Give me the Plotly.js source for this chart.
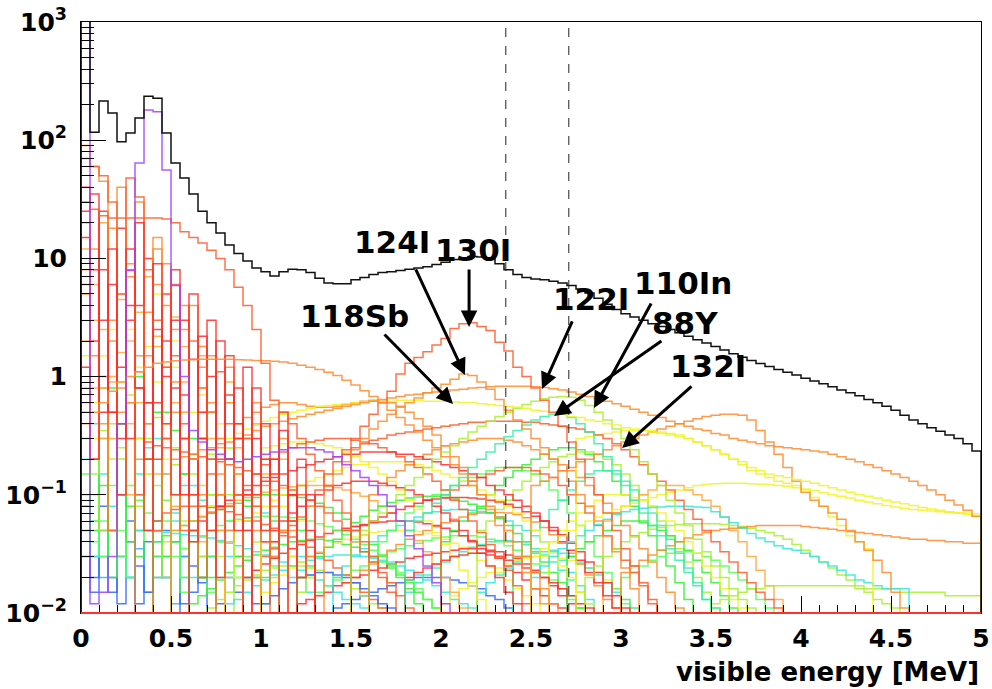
<!DOCTYPE html>
<html>
<head>
<meta charset="utf-8">
<script src="https://cdn.plot.ly/plotly-3.0.1.min.js"></script>
<style>html,body{margin:0;padding:0;background:#fff}#chart{width:992px;height:689px}</style>
</head>
<body>
<div id="chart"></div>
<script>
// ---------------- DATA (bin width 0.05 MeV) ----------------
const binWidth = 0.05;

const xTickStep = 0.5;
const yTickVals = [0.01, 0.1, 1, 10, 100, 1000];
const yTickText = ['10<sup>\u22122</sup>', '10<sup>\u22121</sup>', '1', '10', '10<sup>2</sup>', '10<sup>3</sup>'];
const xTitle = 'visible energy [MeV]';
const windowLow = 2.36, windowHigh = 2.71;

// total spectrum (black), 0 - 5 MeV
const totalStart = 0;
const totalVals = [2000,117,215,170,97,115,154,235,226,115,
  64,48,35,25,20,16.4,13,11,9.5,8.3,
  7.7,7.1,7.7,8.1,8.0,7.6,6.8,6.2,6.1,6.1,
  6.6,6.9,7.3,7.6,7.7,7.9,8.1,8.3,8.5,8.9,
  9.3,9.8,10.1,10.4,10.3,9.9,9.0,8.0,7.3,6.9,
  6.7,6.6,6.4,6.2,5.9,5.5,5.1,4.6,4.1,3.7,
  3.4,3.2,3.0,2.8,2.65,2.5,2.35,2.2,2.05,1.92,
  1.8,1.68,1.56,1.46,1.37,1.29,1.22,1.15,1.09,1.03,
  0.97,0.92,0.87,0.82,0.77,0.73,0.69,0.64,0.60,0.56,
  0.52,0.47,0.43,0.40,0.37,0.345,0.32,0.30,0.27,0.235];

// prominent isotopes
const purpleStart = 0;
const purpleVals = [1500,0.012,0.015,0.03,0.4,7.9,64,180,174,56,5.9,1.0,0.35,0.28,0.24,0.22,0.2,0.19,0.2,0.21,
  0.22,0.23,0.24,0.25,0.25,0.25,0.24,0.23,0.21,0.18,0.16,0.14,0.12,0.1,0.08,0.06,0.045,0.035,0.025,0.018,0.012];
const redAStart = 0;
const redAVals = [30,26,23,22,22,22,22,22,22,21.5,20,16.8,15,13.5,11.7,10,8.0,5.7,4.0,2.5,
  1.3,0.63,0.5,0.4,0.3,0.22,0.16,0.12,0.09,0.07,0.05,0.04,0.03,0.02,0.015];
const orangeEStart = 0;
const orangeEVals = [0.4,0.5,0.6,0.75,0.9,1.0,1.1,1.2,1.3,1.33,1.36,1.38,1.39,1.4,1.4,1.4,1.4,1.39,1.38,1.37,
  1.36,1.35,1.33,1.3,1.25,1.2,1.15,1.09,1.02,0.93,0.85,0.76,0.68,0.6,0.52,0.45,0.39,0.34,0.29,0.25,
  0.21,0.18,0.15,0.12,0.1,0.08,0.065,0.05,0.04,0.03,0.022,0.016,0.012];
const i130Start = 1.0;
const i130Vals = [0.03,0.035,0.045,0.055,0.065,0.08,0.11,0.15,0.19,0.24,0.3,0.38,0.48,0.6,0.75,1.05,1.3,1.45,1.62,1.85,
  2.1,2.55,2.8,2.85,2.65,2.45,1.95,1.65,1.2,1.0,0.8,0.63,0.5,0.38,0.28,0.2,0.14,0.1,0.07,0.05,0.035,0.025,0.018,0.012];
const i124Start = 1.35;
const i124Vals = [0.12,0.15,0.19,0.24,0.3,0.36,0.42,0.48,0.55,0.6,0.66,0.73,0.8,0.86,0.95,1.05,1.02,0.9,0.78,0.64,
  0.52,0.43,0.36,0.3,0.25,0.2,0.16,0.13,0.1,0.08,0.06,0.045,0.033,0.024,0.016];
const i122Start = 0.5;
const i122Vals = [0.2,0.21,0.22,0.24,0.25,0.27,0.28,0.3,0.32,0.35,
  0.38,0.4,0.42,0.44,0.46,0.48,0.5,0.52,0.54,0.56,
  0.58,0.6,0.62,0.64,0.66,0.68,0.7,0.71,0.73,0.74,
  0.75,0.77,0.78,0.8,0.81,0.82,0.83,0.83,0.83,0.83,
  0.82,0.81,0.79,0.77,0.74,0.71,0.68,0.65,0.62,0.59,
  0.56,0.53,0.5,0.47,0.45,0.42,0.4,0.38,0.36,0.35,
  0.33,0.32,0.3,0.29,0.28,0.27,0.26,0.255,0.25,0.245,
  0.24,0.235,0.23,0.22,0.21,0.2,0.19,0.18,0.17,0.16,
  0.15,0.14,0.13,0.12,0.11,0.1,0.09,0.082,0.074,0.066];
const sb118Start = 0.8;
const sb118Vals = [0.3,0.33,0.36,0.39,0.42,0.45,0.48,0.5,0.52,0.54,
  0.56,0.57,0.58,0.59,0.6,0.61,0.62,0.62,0.62,0.63,
  0.63,0.63,0.62,0.62,0.62,0.61,0.6,0.6,0.59,0.58,
  0.57,0.56,0.55,0.54,0.52,0.51,0.49,0.48,0.46,0.45,
  0.43,0.42,0.4,0.39,0.37,0.36,0.35,0.34,0.33,0.32,
  0.31,0.3,0.28,0.26,0.24,0.22,0.2,0.19,0.17,0.16,
  0.15,0.145,0.14,0.135,0.13,0.125,0.12,0.115,0.11,0.105,
  0.1,0.097,0.094,0.09,0.087,0.084,0.081,0.078,0.076,0.074,0.072,0.07,0.068,0.066];
const y88Start = 1.8;
const y88Vals = [0.05,0.06,0.07,0.085,0.1,0.12,0.14,0.17,0.2,0.23,0.27,0.31,0.35,0.39,0.43,0.46,0.48,0.48,0.45,0.4,
  0.34,0.27,0.21,0.16,0.12,0.09,0.07,0.055,0.045,0.035,0.028,0.022,0.017,0.013,0.011];
const in110Start = 1.5;
const in110Vals = [0.04,0.05,0.06,0.07,0.08,0.1,0.12,0.14,0.17,0.2,
  0.23,0.26,0.3,0.34,0.38,0.42,0.46,0.5,0.54,0.58,
  0.62,0.65,0.67,0.68,0.67,0.63,0.57,0.5,0.43,0.36,
  0.3,0.24,0.19,0.15,0.12,0.09,0.07,0.055,0.042,0.033,0.025,0.02,0.016,0.013,0.011];
const i132Start = 1.5;
const i132Vals = [0.25,0.27,0.29,0.3,0.32,0.33,0.34,0.35,0.36,0.37,
  0.38,0.39,0.4,0.41,0.41,0.42,0.42,0.42,0.42,0.41,
  0.41,0.4,0.39,0.38,0.37,0.36,0.34,0.32,0.3,0.27,
  0.24,0.21,0.18,0.15,0.13,0.11,0.09,0.075,0.062,0.05,
  0.04,0.033,0.027,0.022,0.018,0.015,0.013,0.011];
const o36Start = 2.5;
const o36Vals = [0.12,0.13,0.14,0.16,0.17,0.19,0.2,0.22,0.24,0.26,
  0.28,0.3,0.32,0.34,0.36,0.38,0.4,0.42,0.44,0.46,
  0.47,0.48,0.48,0.47,0.43,0.35,0.28,0.22,0.17,0.13,
  0.105,0.09,0.08,0.07,0.062,0.05,0.04,0.034,0.028,0.022,0.015,0.011];
const o40Start = 3.0;
const o40Vals = [0.022,0.025,0.028,0.031,0.034,0.037,0.04,0.043,0.046,0.048,
  0.05,0.051,0.052,0.053,0.054,0.055,0.055,0.055,0.055,0.055,
  0.054,0.053,0.052,0.051,0.05,0.049,0.048,0.047,0.046,0.045,
  0.044,0.043,0.042,0.042,0.041,0.041,0.04,0.04,0.039,0.039];
const g40Start = 2.8;
const g40Vals = [0.02,0.025,0.03,0.035,0.04,0.044,0.048,0.051,0.053,0.055,
  0.056,0.057,0.057,0.057,0.057,0.056,0.055,0.054,0.052,0.05,
  0.048,0.045,0.042,0.038,0.034,0.03,0.027,0.024,0.021,0.019,0.017,0.015,0.013,0.012,0.011];
const glStart = 3.5;
const glVals = [0.012,0.013,0.014,0.015,0.016,0.016,0.017,0.017,0.017,0.017,0.017,0.017,0.017,0.017,0.017,
  0.017,0.016,0.016,0.016,0.016,0.016,0.015,0.015,0.015,0.015,0.015,0.014,0.014,0.014,0.014];
const cyStart = 2.5;
const cyVals = [0.02,0.025,0.03,0.035,0.04,0.045,0.05,0.056,0.062,0.068,
  0.072,0.075,0.077,0.078,0.079,0.08,0.08,0.08,0.079,0.078,
  0.072,0.065,0.058,0.052,0.047,0.043,0.04,0.037,0.035,0.034,
  0.032,0.03,0.027,0.025,0.023,0.021,0.019,0.018,0.017,0.016,0.016,0.016];
const yeStart = 2.75;
const yeVals = [0.3,0.31,0.32,0.33,0.34,0.35,0.35,0.35,0.35,0.34,
  0.33,0.32,0.3,0.28,0.26,0.24,0.22,0.2,0.18,0.16,
  0.15,0.14,0.13,0.125,0.12,0.11,0.095,0.08,0.065,0.055,0.045,0.04,0.035];
const y2Start = 2.5;
const y2Vals = [0.03,0.035,0.04,0.045,0.05,0.055,0.06,0.065,0.07,0.075,
  0.08,0.085,0.09,0.095,0.1,0.105,0.11,0.115,0.12,0.122,
  0.124,0.125,0.125,0.125,0.124,0.123,0.122,0.12,0.118,0.115,
  0.112,0.108,0.104,0.1,0.097,0.094,0.09,0.087,0.084,0.081,
  0.079,0.077,0.075,0.074,0.073,0.072,0.071,0.07,0.07,0.069];

// broad backgrounds
const h1Start = 0.6, h1Vals = [0.05,0.06,0.07,0.08,0.09,0.1,0.11,0.12,0.13,0.14,0.15,0.16,0.17,0.18,0.19,0.2,0.21,0.22,0.22,0.23,0.23,0.23,0.23,0.22,0.22,0.21,0.2,0.19,0.18,0.17,0.16,0.15,0.14,0.12,0.11,0.1,0.09,0.08,0.07,0.06,0.05,0.04,0.034,0.028,0.022,0.018,0.014,0.011];
const h2Start = 1.0, h2Vals = [0.04,0.05,0.06,0.07,0.08,0.09,0.1,0.11,0.12,0.125,0.13,0.13,0.13,0.125,0.12,0.115,0.11,0.1,0.09,0.08,0.07,0.06,0.05,0.04,0.032,0.025,0.02,0.015,0.012];
const h3Start = 0.8, h3Vals = [0.08,0.1,0.12,0.15,0.18,0.2,0.23,0.25,0.27,0.28,0.29,0.3,0.3,0.3,0.29,0.28,0.27,0.25,0.23,0.21,0.19,0.17,0.15,0.13,0.11,0.09,0.075,0.06,0.048,0.038,0.03,0.023,0.017,0.012];
const h4Start = 1.2, h4Vals = [0.02,0.025,0.03,0.036,0.042,0.05,0.058,0.066,0.074,0.08,0.086,0.09,0.094,0.096,0.097,0.097,0.095,0.092,0.088,0.083,0.077,0.07,0.063,0.055,0.047,0.04,0.033,0.027,0.022,0.018,0.014,0.011];
const h5Start = 1.6, h5Vals = [0.03,0.04,0.05,0.06,0.07,0.08,0.09,0.1,0.11,0.12,0.13,0.14,0.15,0.16,0.17,0.17,0.17,0.16,0.15,0.13,0.11,0.09,0.07,0.055,0.04,0.03,0.022,0.016,0.012];
const h6Start = 0.9, h6Vals = [0.06,0.07,0.08,0.09,0.1,0.11,0.12,0.13,0.14,0.15,0.16,0.17,0.18,0.18,0.19,0.19,0.19,0.19,0.18,0.18,0.17,0.16,0.15,0.14,0.13,0.12,0.11,0.1,0.09,0.08,0.07,0.06,0.05,0.04,0.032,0.025,0.02,0.015,0.012];
const h7Start = 1.4, h7Vals = [0.02,0.025,0.03,0.035,0.04,0.045,0.05,0.055,0.06,0.065,0.07,0.072,0.074,0.075,0.075,0.074,0.072,0.07,0.065,0.06,0.055,0.05,0.045,0.04,0.034,0.028,0.022,0.017,0.013,0.01];
const h8Start = 1.6, h8Vals = [0.1,0.12,0.14,0.16,0.18,0.2,0.22,0.24,0.26,0.27,0.28,0.29,0.3,0.3,0.3,0.29,0.28,0.26,0.24,0.22,0.2,0.18,0.16,0.14,0.12,0.1,0.085,0.07,0.055,0.045,0.035,0.027,0.02,0.015,0.011];
const h9Start = 2.0, h9Vals = [0.04,0.05,0.06,0.07,0.08,0.1,0.12,0.14,0.16,0.18,0.2,0.22,0.24,0.25,0.25,0.24,0.22,0.19,0.16,0.13,0.1,0.08,0.06,0.045,0.034,0.025,0.018,0.013];
const h10Start = 2.2, h10Vals = [0.05,0.06,0.075,0.09,0.11,0.13,0.15,0.17,0.19,0.21,0.22,0.23,0.23,0.22,0.2,0.18,0.15,0.12,0.1,0.08,0.06,0.045,0.035,0.027,0.02,0.015,0.011];
const h11Start = 2.4, h11Vals = [0.03,0.04,0.05,0.06,0.075,0.09,0.11,0.13,0.15,0.16,0.16,0.15,0.13,0.11,0.09,0.07,0.055,0.042,0.032,0.024,0.018,0.013];
const h12Start = 1.5, h12Vals = [0.05,0.055,0.06,0.065,0.07,0.075,0.08,0.085,0.09,0.092,0.094,0.095,0.095,0.094,0.092,0.09,0.087,0.083,0.078,0.072,0.066,0.06,0.053,0.046,0.039,0.033,0.027,0.022,0.018,0.014,0.011];
const h13Start = 2.0, h13Vals = [0.1,0.11,0.12,0.13,0.14,0.15,0.16,0.17,0.17,0.17,0.16,0.15,0.14,0.12,0.1,0.085,0.07,0.055,0.045,0.035,0.028,0.022,0.017,0.013,0.01];
const h14Start = 0.5, h14Vals = [0.03,0.035,0.04,0.045,0.05,0.055,0.06,0.062,0.064,0.065,0.066,0.066,0.065,0.064,0.062,0.06,0.057,0.054,0.05,0.046,0.042,0.038,0.034,0.03,0.026,0.022,0.019,0.016,0.013,0.011];
const h15Start = 2.6, h15Vals = [0.04,0.05,0.06,0.07,0.08,0.09,0.1,0.1,0.1,0.095,0.09,0.08,0.07,0.06,0.05,0.04,0.032,0.025,0.02,0.016,0.013,0.011];
const h16Start = 2.9, h16Vals = [0.06,0.07,0.08,0.09,0.1,0.11,0.12,0.12,0.12,0.11,0.1,0.09,0.08,0.065,0.05,0.04,0.03,0.023,0.017,0.013,0.01];
const h17Start = 2.7, h17Vals = [0.03,0.035,0.04,0.045,0.05,0.055,0.06,0.06,0.058,0.055,0.05,0.045,0.04,0.034,0.028,0.022,0.018,0.014,0.011];
const h18Start = 1.8, h18Vals = [0.02,0.022,0.024,0.026,0.028,0.03,0.031,0.032,0.032,0.031,0.03,0.028,0.026,0.024,0.022,0.02,0.018,0.016,0.014,0.012,0.011];
const h19Start = 1.0, h19Vals = [0.012,0.014,0.016,0.018,0.02,0.021,0.022,0.022,0.021,0.02,0.018,0.016,0.014,0.012,0.011];
const h20Start = 2.2, h20Vals = [0.015,0.018,0.021,0.024,0.027,0.03,0.032,0.033,0.033,0.032,0.03,0.027,0.024,0.021,0.018,0.015,0.013,0.011];
const h21Start = 3.0, h21Vals = [0.02,0.022,0.025,0.028,0.03,0.032,0.033,0.033,0.032,0.03,0.028,0.025,0.022,0.019,0.016,0.013,0.011];
const h22Start = 0.3, h22Vals = [0.3,0.28,0.26,0.25,0.24,0.23,0.22,0.21,0.2,0.19,0.18,0.17,0.16,0.15,0.14,0.13,0.12,0.11,0.1,0.09,0.08,0.07,0.06,0.05,0.04,0.033,0.027,0.022,0.018,0.014,0.011];
const h23Start = 1.0, h23Vals = [0.25,0.26,0.27,0.28,0.28,0.28,0.27,0.26,0.25,0.23,0.21,0.19,0.17,0.15,0.13,0.11,0.09,0.075,0.06,0.048,0.038,0.03,0.023,0.017,0.013,0.01];
const h24Start = 0.9, h24Vals = [0.45,0.5,0.55,0.58,0.6,0.6,0.58,0.56,0.55,0.55,0.56,0.58,0.6,0.62,0.63,0.62,0.6,0.56,0.5,0.44,0.38,0.32,0.26,0.21,0.17,0.13,0.1,0.075,0.055,0.04,0.03,0.022,0.016,0.012];

// low-level backgrounds
const b1Start = 0.6, b1Vals = [0.012,0.014,0.016,0.019,0.022,0.025,0.028,0.031,0.034,0.036,0.038,0.04,0.041,0.042,0.042,0.041,0.04,0.038,0.036,0.033,0.03,0.027,0.024,0.021,0.018,0.015,0.013,0.011];
const b2Start = 0.8, b2Vals = [0.012,0.013,0.015,0.017,0.019,0.021,0.023,0.025,0.027,0.028,0.029,0.03,0.031,0.031,0.031,0.03,0.029,0.028,0.027,0.025,0.023,0.021,0.019,0.017,0.015,0.013,0.012,0.011,0.01];
const b3Start = 1.0, b3Vals = [0.015,0.018,0.021,0.024,0.027,0.03,0.033,0.036,0.039,0.042,0.044,0.046,0.048,0.049,0.05,0.05,0.05,0.049,0.047,0.045,0.042,0.039,0.036,0.032,0.028,0.025,0.022,0.019,0.016,0.014,0.012,0.01];
const b4Start = 0.9, b4Vals = [0.02,0.023,0.026,0.029,0.032,0.035,0.038,0.041,0.044,0.047,0.05,0.052,0.054,0.056,0.058,0.059,0.06,0.06,0.06,0.059,0.057,0.055,0.052,0.049,0.045,0.041,0.037,0.033,0.029,0.025,0.022,0.019,0.016,0.014,0.012,0.011,0.01];
const b5Start = 1.3, b5Vals = [0.015,0.017,0.019,0.021,0.023,0.025,0.027,0.03,0.033,0.035,0.037,0.039,0.041,0.043,0.044,0.045,0.045,0.045,0.044,0.042,0.04,0.037,0.034,0.03,0.026,0.022,0.019,0.016,0.013,0.011];
const b6Start = 1.5, b6Vals = [0.02,0.023,0.026,0.03,0.034,0.038,0.042,0.046,0.05,0.054,0.058,0.062,0.065,0.068,0.07,0.071,0.071,0.07,0.068,0.064,0.059,0.053,0.046,0.039,0.032,0.026,0.021,0.017,0.013,0.011];
const b7Start = 0.7, b7Vals = [0.011,0.013,0.015,0.017,0.019,0.021,0.023,0.024,0.025,0.025,0.025,0.024,0.023,0.022,0.02,0.018,0.016,0.014,0.012,0.011];
const b8Start = 1.4, b8Vals = [0.011,0.012,0.013,0.014,0.015,0.016,0.017,0.018,0.019,0.02,0.02,0.02,0.02,0.019,0.018,0.017,0.016,0.014,0.013,0.011];
const b9Start = 1.2, b9Vals = [0.012,0.013,0.014,0.015,0.017,0.018,0.02,0.021,0.023,0.024,0.026,0.027,0.029,0.03,0.031,0.032,0.033,0.034,0.035,0.035,0.035,0.034,0.033,0.031,0.029,0.026,0.023,0.02,0.017,0.014,0.012,0.01];
const b10Start = 1.8, b10Vals = [0.015,0.018,0.021,0.024,0.027,0.03,0.033,0.036,0.038,0.04,0.041,0.041,0.04,0.038,0.035,0.031,0.027,0.023,0.019,0.015,0.012];
const b11Start = 0.4, b11Vals = [0.04,0.045,0.05,0.055,0.06,0.065,0.07,0.075,0.08,0.085,0.09,0.095,0.1,0.1,0.1,0.098,0.095,0.09,0.085,0.078,0.07,0.062,0.054,0.046,0.038,0.031,0.025,0.02,0.016,0.012];
const b12Start = 0.5, b12Vals = [0.05,0.055,0.06,0.066,0.072,0.078,0.084,0.09,0.095,0.1,0.105,0.11,0.114,0.117,0.12,0.12,0.12,0.118,0.115,0.11,0.104,0.097,0.089,0.08,0.07,0.06,0.05,0.041,0.033,0.026,0.02,0.015,0.011];
const b13Start = 2.0, b13Vals = [0.012,0.014,0.016,0.018,0.02,0.022,0.024,0.026,0.028,0.029,0.03,0.03,0.03,0.029,0.028,0.026,0.024,0.022,0.019,0.016,0.013,0.011];
const b14Start = 0.3, b14Vals = [0.05,0.05,0.049,0.048,0.047,0.046,0.045,0.044,0.043,0.041,0.039,0.037,0.035,0.033,0.031,0.029,0.027,0.025,0.023,0.021,0.019,0.017,0.015,0.013,0.012,0.011];
const b15Start = 0.4, b15Vals = [0.06,0.07,0.075,0.08,0.08,0.08,0.078,0.075,0.072,0.068,0.064,0.06,0.056,0.052,0.048,0.044,0.04,0.036,0.032,0.028,0.024,0.021,0.018,0.015,0.013,0.011];

// low-energy spiky contributions (start at 0)
const spikyStart = 0;
const s1Vals = [40,8,0.5,6,0.3,12,0.8,0.2,9,0.4,3,0.1,5,0.3,0.05,2,0.2,0.8,0,0.3,0.05,0.2,0,0.1];
const s2Vals = [90,60,45,2,40,0.6,30,1.5,12,4,0.9,2.5,0.2,1.2,0.5,0.1,0.6,0.15,0.3,0.05,0.12,0.03,0.05];
const s3Vals = [70,60,50,30,5,48,33,8,3,1.2,6,0.4,2,0.8,0.2,1.1,0.4,0.1,0.3,0.08,0.04];
const s4Vals = [3,0.6,1.5,0.2,0.9,2.5,0.3,1.8,5,0.2,1.2,0.5,0.1,0.8,0.05,0.3,0.6,0.02,0.2,0.04];
const s5Vals = [0.5,0.06,0.3,0.8,0.1,0.04,1.0,0.2,0.5,0.03,0.35,0.15,0.05,0.3,0.02,0.1,0.2,0.03,0.1,0.02];
const s6Vals = [0.2,0.03,0.15,0.05,0.4,0.02,0.1,0.25,0.04,0.15,0.06,0.02,0.12,0.03,0.08,0.02,0.05,0.02];
const s7Vals = [0.05,0.02,0.08,0.015,0.03,0.06,0.012,0.04,0.02,0.05,0.01,0.03,0.015,0.02];
const s8Vals = [20,1.5,0.4,18,0.8,7,0.2,3.5,15,9,0.5,0.3,4,0.1,1.5,0.3,0.05,0.4,0.1,0.02];
const s9Vals = [1.2,0.2,25,0.5,0.1,3,0.8,0.05,0.6,2,0.1,0.7,0.04,0.3,0.5,0.02,0.2,0.05,0.1];
const s10Vals = [0.8,0.1,0.05,0.4,0.2,0.6,0.05,0.3,0.12,0.02,0.25,0.06,0.15,0.03,0.1,0.04,0.02];
const s11Vals = [12,0.8,2.5,0.3,4.5,0.4,1.1,0.2,2.2,0.15,0.6,1.8,0.1,0.5,0.07,0.25,0.04,0.1];
const s12Vals = [6,0.2,1.0,0.05,0.4,8,0.1,0.6,0.05,0.3,1.5,0.05,0.2,0.02,0.15];
const s13Vals = [0.15,0.04,0.06,0.2,0.03,0.12,0.05,0.07,0.02,0.09,0.04,0.015,0.05,0.02,0.03];
const s14Vals = [0.08,0.03,0.02,0.05,0.1,0.02,0.035,0.015,0.06,0.02,0.012,0.03];
const s15Vals = [2,6,0.3,0.9,1.6,0.1,3.5,0.4,0.15,1.2,0.08,0.5,0.2,0.04,0.3,0.05];
const s16Vals = [0.3,0.05,0.12,0.02,0.4,0.08,0.03,0.2,0.06,0.5,0.04,0.15,0.3,0.02,0.1,0.05,0.25,0.03,0.08,0.15,0.02,0.06,0.1,0.03,0.05,0.02];
const s17Vals = [0.1,0.4,0.03,0.08,0.2,0.02,0.15,0.05,0.3,0.03,0.07,0.12,0.02,0.09,0.2,0.04,0.03,0.1,0.05,0.02,0.07,0.03,0.05,0.02,0.03,0.015];
const s18Vals = [0.03,0.015,0.05,0.02,0.012,0.04,0.025,0.015,0.03,0.02,0.04,0.012,0.025,0.018,0.03,0.012,0.02,0.015,0.02,0.012];
const s19Vals = [1.5,0.3,0.8,2.5,0.2,0.6,1.2,0.15,0.9,0.4,2,0.1,0.5,0.7,0.08,0.4,0.25,0.06,0.3,0.1,0.05,0.15,0.08,0.03,0.06,0.02];
const s20Vals = [5,12,0.8,3,0.5,9,1.5,0.4,6,0.3,2.5,4,0.2,1.8,0.6,0.15,1.2,0.3,0.1,0.6,0.2,0.08,0.3,0.05,0.12,0.03];
const s21Vals = [15,2,8,0.5,18,0.3,4,10,0.2,5,0.8,3,0.1,2.2,1,0.08,1.5,0.4,0.05,0.8,0.2,0.04,0.35,0.1,0.02,0.1];
const s22Vals = [0.6,0.15,0.35,0.05,0.25,0.7,0.08,0.2,0.45,0.04,0.18,0.3,0.06,0.12,0.22,0.03,0.1,0.15,0.02,0.08,0.1,0.02,0.05,0.06,0.015,0.03];
const s23Vals = [0.08,0.2,0.03,0.12,0.05,0.02,0.09,0.15,0.03,0.06,0.1,0.02,0.05,0.08,0.015,0.04,0.06,0.02,0.03,0.04,0.012,0.025];
const s24Vals = [8,3,20,1,5,2,0.6,7,1.8,0.3,3.2,0.9,0.2,1.5,0.5,0.1,0.9,0.25,0.06,0.4,0.15,0.04,0.2,0.06,0.02,0.08];
const s25Vals = [25,35,3,12,1.2,4,20,0.6,2.5,1,8,0.3,1.4,0.5,3,0.2,0.7,0.3,1.2,0.1,0.4,0.15,0.5,0.06,0.2,0.05];

// ---------------- BUILD ----------------
const FLOOR = 0.005;
function stepTrace(start, vals, color, width, opacity) {
  const xs = [start], ys = [FLOOR];
  for (let i = 0; i < vals.length; i++) {
    xs.push(+(start + i * binWidth).toFixed(4));
    ys.push(vals[i] < 0.01 ? FLOOR : vals[i]);
  }
  const end = +(start + vals.length * binWidth).toFixed(4);
  xs.push(end); ys.push(ys[ys.length - 1]);
  xs.push(end); ys.push(FLOOR);
  return {x: xs, y: ys, type: 'scatter', mode: 'lines', hoverinfo: 'skip',
          line: {shape: 'hv', color: color, width: width || 1.5}, opacity: opacity || 0.85};
}

const C = {purple:'#a040ff', red:'#ff2a2a', ored:'#ff5a2a', orange:'#ff8a2a', lorange:'#ffa838',
           yellow:'#f2f222', ygreen:'#a8f02a', green:'#33ee33', green2:'#55ff55', cgreen:'#33f0a8',
           cyan:'#33e6dd', lblue:'#33b0ff', blue:'#3366ff'};
const S = spikyStart;
const traces = [
  stepTrace(S, s7Vals, C.blue), stepTrace(S, s14Vals, C.lblue), stepTrace(S, s18Vals, C.blue),
  stepTrace(S, s6Vals, C.cyan), stepTrace(S, s17Vals, C.cyan), stepTrace(S, s13Vals, C.green2),
  stepTrace(S, s23Vals, C.green2), stepTrace(S, s5Vals, C.green), stepTrace(S, s16Vals, C.green),
  stepTrace(S, s10Vals, C.ygreen), stepTrace(S, s22Vals, C.ygreen),
  stepTrace(b8Start, b8Vals, C.blue), stepTrace(b2Start, b2Vals, C.cyan), stepTrace(b14Start, b14Vals, C.cyan),
  stepTrace(b7Start, b7Vals, C.ygreen), stepTrace(b1Start, b1Vals, C.green), stepTrace(b5Start, b5Vals, C.green2),
  stepTrace(b10Start, b10Vals, C.cgreen), stepTrace(b11Start, b11Vals, C.green), stepTrace(b3Start, b3Vals, C.yellow),
  stepTrace(b13Start, b13Vals, C.yellow), stepTrace(b6Start, b6Vals, C.orange), stepTrace(b12Start, b12Vals, C.lorange),
  stepTrace(b9Start, b9Vals, C.red), stepTrace(b4Start, b4Vals, C.red), stepTrace(b15Start, b15Vals, C.ored),
  stepTrace(h19Start, h19Vals, C.blue), stepTrace(h20Start, h20Vals, C.cyan),
  stepTrace(h7Start, h7Vals, C.cyan), stepTrace(h14Start, h14Vals, C.green2),
  stepTrace(h4Start, h4Vals, C.green), stepTrace(h5Start, h5Vals, C.green2),
  stepTrace(h9Start, h9Vals, C.green), stepTrace(h10Start, h10Vals, C.ygreen),
  stepTrace(h11Start, h11Vals, C.cgreen), stepTrace(h17Start, h17Vals, C.green),
  stepTrace(h21Start, h21Vals, C.green2), stepTrace(h15Start, h15Vals, C.yellow),
  stepTrace(h6Start, h6Vals, C.yellow), stepTrace(h23Start, h23Vals, C.yellow),
  stepTrace(h16Start, h16Vals, C.lorange), stepTrace(h8Start, h8Vals, C.orange),
  stepTrace(h18Start, h18Vals, C.red), stepTrace(h12Start, h12Vals, C.red),
  stepTrace(h13Start, h13Vals, C.ored), stepTrace(h3Start, h3Vals, C.ored),
  stepTrace(h2Start, h2Vals, C.red), stepTrace(h1Start, h1Vals, C.red),
  stepTrace(h22Start, h22Vals, C.ored), stepTrace(h24Start, h24Vals, C.orange),
  stepTrace(glStart, glVals, C.ygreen), stepTrace(g40Start, g40Vals, C.ygreen),
  stepTrace(cyStart, cyVals, C.cyan), stepTrace(o40Start, o40Vals, C.orange),
  stepTrace(y2Start, y2Vals, C.yellow), stepTrace(yeStart, yeVals, C.yellow),
  stepTrace(o36Start, o36Vals, C.orange), stepTrace(i132Start, i132Vals, C.ored),
  stepTrace(y88Start, y88Vals, C.cgreen), stepTrace(in110Start, in110Vals, C.ygreen),
  stepTrace(sb118Start, sb118Vals, C.yellow), stepTrace(i122Start, i122Vals, C.orange),
  stepTrace(i124Start, i124Vals, C.orange), stepTrace(i130Start, i130Vals, C.ored),
  stepTrace(S, s4Vals, C.yellow), stepTrace(S, s19Vals, C.yellow), stepTrace(S, s15Vals, C.lorange),
  stepTrace(S, s11Vals, C.lorange), stepTrace(S, s24Vals, C.lorange), stepTrace(S, s8Vals, C.orange),
  stepTrace(S, s20Vals, C.orange), stepTrace(S, s12Vals, C.ored), stepTrace(S, s9Vals, C.red),
  stepTrace(S, s21Vals, C.red), stepTrace(S, s2Vals, C.orange), stepTrace(S, s3Vals, C.ored),
  stepTrace(S, s25Vals, C.red), stepTrace(S, s1Vals, C.red),
  stepTrace(orangeEStart, orangeEVals, C.orange), stepTrace(redAStart, redAVals, C.ored),
  stepTrace(purpleStart, purpleVals, C.purple),
  stepTrace(totalStart, totalVals, '#111111', 1.5, 1)
];

// minor log ticks
const yMinor = [];
for (let d = -2; d < 3; d++) for (let m = 2; m <= 9; m++) yMinor.push(m * Math.pow(10, d));

// labels: [text, textX, textLogY, tailX, tailLogY, tipX, tipLogY]
const labels = [
  ['124I', 1.728, 1.139, 1.856, 0.919, 2.133, 0.014],
  ['130I', 2.178, 1.071, 2.156, 0.919, 2.156, 0.42],
  ['118Sb', 1.522, 0.513, 1.678, 0.369, 2.067, -0.232],
  ['122I', 2.833, 0.657, 2.733, 0.479, 2.561, -0.105],
  ['110In', 3.344, 0.792, 3.172, 0.631, 2.85, -0.266],
  ['88Y', 3.356, 0.453, 3.233, 0.310, 2.628, -0.333],
  ['132I', 3.483, 0.090, 3.4, -0.071, 3.006, -0.604]
];
const annotations = [];
labels.forEach(l => {
  annotations.push({x: l[5], y: l[6], ax: l[3], ay: l[4], axref: 'x', ayref: 'y', xref: 'x', yref: 'y',
    text: '', showarrow: true, arrowhead: 2, arrowsize: 1.1, arrowwidth: 3, arrowcolor: '#000', standoff: 0});
  annotations.push({x: l[1], y: l[2], xref: 'x', yref: 'y', text: l[0], showarrow: false,
    xanchor: 'center', yanchor: 'middle',
    font: {family: 'DejaVu Sans, sans-serif', size: 31, color: '#000', weight: 'bold'}});
});
annotations.push({x: 1, y: -0.1, xref: 'paper', yref: 'paper', xanchor: 'right', yanchor: 'middle',
  text: xTitle, showarrow: false,
  font: {family: 'DejaVu Sans, sans-serif', size: 26, color: '#000', weight: 'bold'}});

const tickFont = {family: 'DejaVu Sans, sans-serif', size: 25, color: '#000', weight: 'bold'};
const layout = {
  width: 992, height: 689,
  margin: {l: 81, r: 11, t: 22, b: 76, pad: 0},
  paper_bgcolor: '#fff', plot_bgcolor: '#fff',
  showlegend: false,
  xaxis: {range: [0, 5], tickmode: 'linear', tick0: 0, dtick: xTickStep,
    ticks: 'inside', ticklen: 17, tickwidth: 1, tickcolor: '#000',
    showline: true, linecolor: '#000', linewidth: 1, mirror: true,
    showgrid: false, zeroline: false, tickfont: tickFont, ticklabelstandoff: 3,
    minor: {ticks: 'inside', ticklen: 8, tickwidth: 1, tickcolor: '#000', tickmode: 'linear', tick0: 0, dtick: 0.1, showgrid: false}},
  yaxis: {type: 'log', range: [-2, 3], tickmode: 'array', tickvals: yTickVals, ticktext: yTickText,
    ticks: 'inside', ticklen: 25, tickwidth: 1, tickcolor: '#000',
    showline: true, linecolor: '#000', linewidth: 1, mirror: true,
    showgrid: false, zeroline: false, tickfont: tickFont, ticklabelstandoff: 8,
    minor: {ticks: 'inside', ticklen: 13, tickwidth: 1, tickcolor: '#000', tickmode: 'array', tickvals: yMinor, showgrid: false}},
  shapes: [
    {type: 'line', xref: 'x', yref: 'paper', x0: windowLow, x1: windowLow, y0: 0, y1: 1, layer: 'above',
     line: {color: '#222', width: 1, dash: 'dash'}},
    {type: 'line', xref: 'x', yref: 'paper', x0: windowHigh, x1: windowHigh, y0: 0, y1: 1, layer: 'above',
     line: {color: '#222', width: 1, dash: 'dash'}},
    {type: 'line', xref: 'paper', yref: 'paper', x0: 0, x1: 1, y0: 0, y1: 0, layer: 'above',
     line: {color: '#ff3030', width: 2}}
  ],
  annotations: annotations
};

Plotly.newPlot('chart', traces, layout, {staticPlot: true, displayModeBar: false});
</script>
</body>
</html>
